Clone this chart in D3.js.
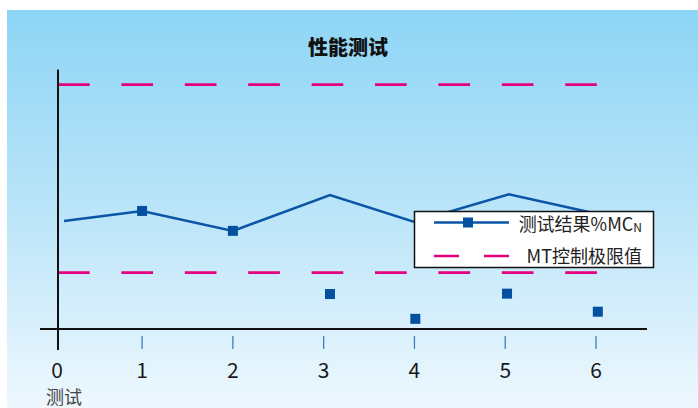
<!DOCTYPE html>
<html>
<head>
<meta charset="utf-8">
<script src="https://cdn.jsdelivr.net/npm/d3@7"></script>
<style>
  html, body { margin: 0; padding: 0; background: #ffffff; }
  svg { display: block; }
  text { font-family: "Noto Sans CJK SC", "Noto Sans", sans-serif; }
</style>
</head>
<body>
<svg id="chart" width="698" height="408"></svg>
<script>
// Test runs (x axis)
const tickValues = [0, 1, 2, 3, 4, 5, 6];
// Result line %MC_N
const lineX = [0.14, 1, 2, 3.07, 4, 5.04, 6.02];
const lineY = [28.7, 31.4, 26.1, 35.6, 28.5, 35.8, 30.6];
// Square markers drawn on the line
const markOnLineX = [1, 2];
const markOnLineY = [31.4, 26.1];
// Square markers of later runs
const markX = [3.07, 4.01, 5.02, 6.02];
const markY = [9.3, 2.7, 9.4, 4.6];
// MT control limits
const limits = [15, 65];

const svg = d3.select("#chart");
const W = 698, H = 408;

// Background panel with vertical gradient
const defs = svg.append("defs");
const grad = defs.append("linearGradient").attr("id", "bg")
  .attr("x1", 0).attr("y1", 0).attr("x2", 0).attr("y2", 1);
grad.append("stop").attr("offset", "0%").attr("stop-color", "#8dd5f5");
grad.append("stop").attr("offset", "55%").attr("stop-color", "#bfe6f9");
grad.append("stop").attr("offset", "100%").attr("stop-color", "#eef8fe");
svg.append("rect").attr("x", 7).attr("y", 10).attr("width", W - 7).attr("height", H - 10)
  .attr("fill", "url(#bg)");

const x = d3.scaleLinear().domain([0, 6]).range([51.3, 596]);
const y = d3.scaleLinear().domain([0, 70]).range([329, 65.8]);
const axisX = 58;

// Title
svg.append("text").attr("x", 348).attr("y", 55).attr("text-anchor", "middle")
  .attr("font-size", 20).attr("font-weight", "900").attr("fill", "#111")
  .text("性能测试");

// Control limit lines
svg.append("g").selectAll("line").data(limits).join("line")
  .attr("x1", axisX).attr("x2", 598)
  .attr("y1", d => y(d)).attr("y2", d => y(d))
  .attr("stroke", "#e5007d").attr("stroke-width", 2.6)
  .attr("stroke-dasharray", "31.7 31.7");

// x axis
svg.append("line").attr("x1", 40).attr("x2", 647).attr("y1", y(0)).attr("y2", y(0))
  .attr("stroke", "#111").attr("stroke-width", 2);
svg.append("g").selectAll("line").data(tickValues.slice(1)).join("line")
  .attr("x1", d => x(d)).attr("x2", d => x(d))
  .attr("y1", y(0) + 7).attr("y2", y(0) + 20)
  .attr("stroke", "#3f7cc4").attr("stroke-width", 1.3);
svg.append("g").selectAll("text").data(tickValues).join("text")
  .attr("x", d => d === 0 ? axisX - 1 : x(d))
  .attr("y", 378)
  .attr("text-anchor", "middle")
  .attr("font-family", "Roboto, sans-serif")
  .attr("font-size", 21).attr("fill", "#1a1a1a")
  .text(d => d);

// y axis
svg.append("line").attr("x1", axisX).attr("x2", axisX)
  .attr("y1", y(69)).attr("y2", y(0) + 21)
  .attr("stroke", "#111").attr("stroke-width", 2);

// x axis title
svg.append("text").attr("x", 64).attr("y", 404).attr("text-anchor", "middle")
  .attr("font-size", 18).attr("fill", "#444").text("测试");

// Result line
const pts = lineX.map((v, i) => [x(v), y(lineY[i])]);
svg.append("path").attr("d", d3.line()(pts))
  .attr("fill", "none").attr("stroke", "#0a55a6").attr("stroke-width", 2.5)
  .attr("stroke-linejoin", "miter");

const sq = 10;
svg.append("g").selectAll("rect").data(markOnLineX.map((v, i) => [v, markOnLineY[i]]).concat(markX.map((v, i) => [v, markY[i]])))
  .join("rect")
  .attr("x", d => x(d[0]) - sq / 2).attr("y", d => y(d[1]) - sq / 2)
  .attr("width", sq).attr("height", sq).attr("fill", "#0450a0");

// Legend
const lg = svg.append("g");
lg.append("rect").attr("x", 414.5).attr("y", 211.5).attr("width", 239).attr("height", 56)
  .attr("fill", "#ffffff").attr("stroke", "#111").attr("stroke-width", 1.5);
lg.append("line").attr("x1", 434).attr("x2", 509).attr("y1", 222.5).attr("y2", 222.5)
  .attr("stroke", "#0a55a6").attr("stroke-width", 2.5);
lg.append("rect").attr("x", 463).attr("y", 217.5).attr("width", sq).attr("height", sq).attr("fill", "#0450a0");
const t1 = lg.append("text").attr("x", 642).attr("y", 231).attr("text-anchor", "end")
  .attr("font-size", 18).attr("fill", "#222");
t1.append("tspan").text("测试结果%MC");
t1.append("tspan").attr("font-size", 12).attr("dy", 1).text("N");
lg.append("line").attr("x1", 434).attr("x2", 509).attr("y1", 256).attr("y2", 256)
  .attr("stroke", "#e5007d").attr("stroke-width", 2.6).attr("stroke-dasharray", "25 25");
lg.append("text").attr("x", 642).attr("y", 263).attr("text-anchor", "end")
  .attr("font-size", 18).attr("fill", "#222").text("MT控制极限值");
</script>
</body>
</html>
